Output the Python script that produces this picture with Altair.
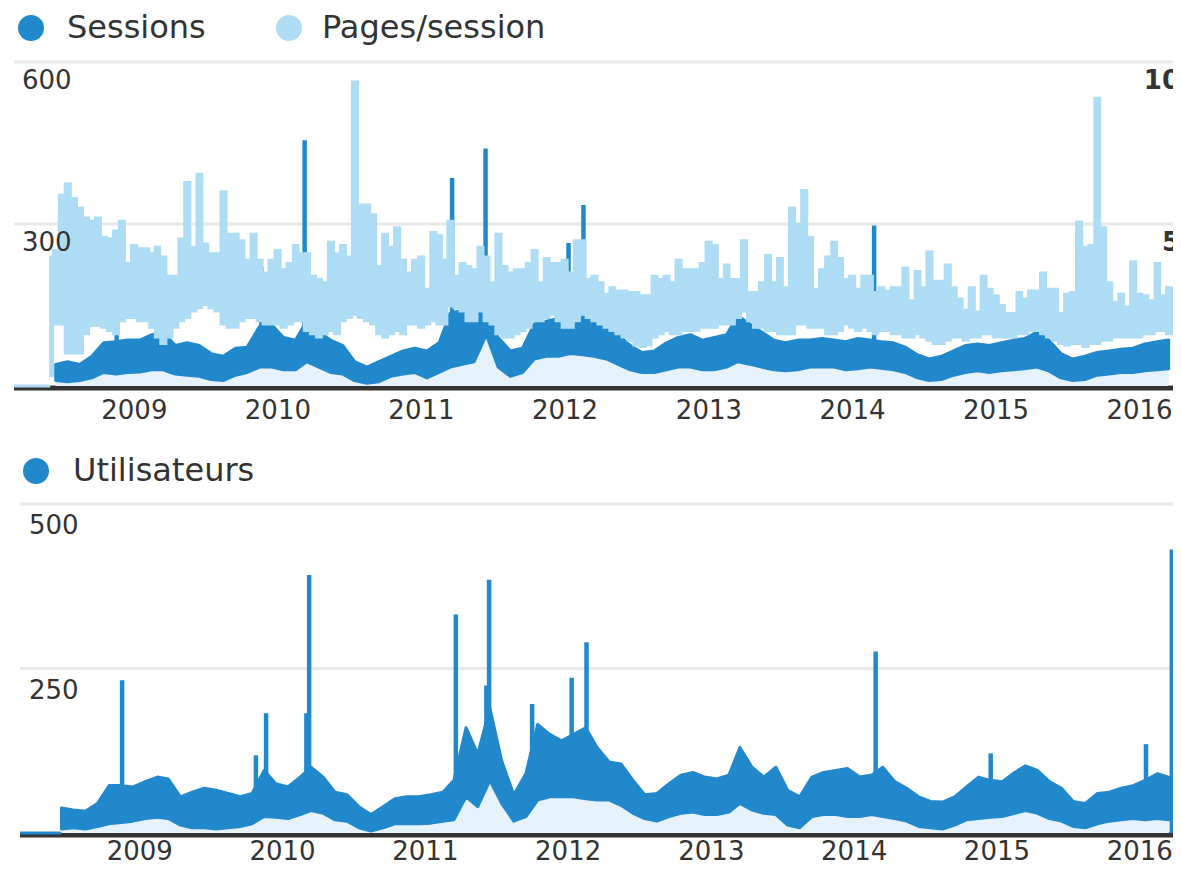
import altair as alt
import pandas as pd

# ---------------- data ----------------
top_legend_labels = ["Sessions", "Pages/session"]
bottom_legend_labels = ["Utilisateurs"]
year_labels = ["2009", "2010", "2011", "2012", "2013", "2014", "2015", "2016"]
sessions_ticks = [300, 600]
pages_ticks = [10, 5]
users_ticks = [250, 500]

# Pages/session: half-month envelopes (1st and 15th of each month from 2008-06-01)
pages_high = [
    4.0, 4.2, 5.9, 6.25, 5.8, 5.5, 5.2, 5.1, 5.2, 4.6,
    4.55, 4.8, 5.1, 3.8, 4.35, 4.25, 4.25, 4.1, 4.3, 4.0,
    3.4, 3.4, 4.55, 6.3, 4.3, 6.55, 4.4, 4.1, 4.1, 6.0,
    4.7, 4.7, 4.5, 3.9, 4.7, 3.9, 3.5, 3.9, 4.2, 3.6,
    3.8, 4.35, 4.1, 4.1, 3.4, 3.3, 3.2, 4.45, 4.1, 4.35,
    4.0, 9.4, 5.6, 5.6, 5.3, 3.7, 4.7, 4.3, 4.9, 3.9,
    3.5, 3.9, 4.0, 3.0, 4.75, 4.65, 3.9, 5.1, 3.4, 3.8,
    3.7, 3.6, 4.3, 4.0, 3.2, 4.7, 3.7, 3.5, 3.6, 3.6,
    3.8, 4.2, 3.2, 3.95, 3.8, 3.8, 3.9, 3.5, 4.5, 4.5,
    3.3, 3.4, 3.2, 2.85, 3.05, 2.95, 2.95, 2.9, 2.9, 2.8,
    2.8, 3.4, 3.3, 3.4, 3.2, 3.9, 3.6, 3.6, 3.6, 3.8,
    4.45, 4.35, 3.3, 3.75, 3.3, 3.3, 4.5, 2.9, 2.9, 3.2,
    4.05, 3.2, 3.95, 3.05, 5.5, 5.0, 6.05, 4.6, 3.0, 3.6,
    4.0, 4.45, 3.95, 3.3, 3.4, 3.0, 3.4, 3.4, 2.9, 3.05,
    2.95, 3.05, 3.05, 3.65, 2.65, 3.55, 3.05, 4.15, 3.25, 3.25,
    3.75, 3.05, 2.7, 2.35, 3.05, 2.3, 3.4, 3.0, 2.8, 2.5,
    2.25, 2.25, 2.9, 2.7, 2.95, 2.95, 3.5, 3.0, 3.0, 2.25,
    2.85, 2.9, 5.07, 4.3, 4.35, 8.9, 4.9, 3.2, 2.6, 2.85,
    2.45, 3.85, 2.85, 2.8, 2.65, 3.8, 2.8, 3.05, 3.05,
]
pages_low = [
    0.3, 1.9, 1.9, 1.0, 1.0, 1.0, 1.6, 1.85, 1.85, 1.8,
    1.7, 1.6, 2.0, 2.1, 2.1, 2.0, 2.0, 1.8, 1.5, 1.3,
    1.5, 1.8, 2.0, 2.1, 2.3, 2.4, 2.5, 2.4, 2.3, 1.9,
    1.8, 1.8, 2.0, 2.1, 2.1, 2.0, 1.9, 1.9, 1.9, 1.8,
    1.9, 2.0, 2.0, 1.7, 1.6, 1.5, 1.6, 1.7, 1.6, 2.0,
    2.1, 2.2, 2.1, 2.0, 1.9, 1.6, 1.5, 1.6, 1.7, 1.6,
    1.9, 1.9, 1.8, 1.9, 2.0, 1.9, 1.9, 2.45, 2.4, 2.3,
    2.0, 2.0, 2.3, 2.0, 1.9, 1.6, 1.5, 1.5, 1.6, 1.7,
    1.8, 2.0, 2.0, 2.1, 2.2, 2.0, 1.8, 1.8, 2.0, 2.2,
    2.1, 2.0, 1.9, 1.8, 1.7, 1.6, 1.5, 1.4, 1.25, 1.2,
    1.25, 1.5, 1.6, 1.7, 1.6, 1.6, 1.7, 1.7, 1.7, 1.8,
    1.8, 1.8, 1.9, 1.9, 1.9, 2.1, 2.3, 2.0, 1.8, 1.8,
    1.7, 1.7, 1.6, 1.6, 1.6, 1.9, 1.9, 1.8, 1.8, 1.8,
    1.6, 1.6, 1.7, 1.9, 1.8, 1.7, 1.8, 1.7, 1.6, 1.7,
    1.7, 1.6, 1.6, 1.5, 1.5, 1.6, 1.5, 1.4, 1.3, 1.3,
    1.4, 1.5, 1.5, 1.4, 1.5, 1.5, 1.6, 1.6, 1.5, 1.5,
    1.5, 1.5, 1.6, 1.6, 1.7, 1.7, 1.6, 1.5, 1.4, 1.3,
    1.25, 1.3, 1.3, 1.2, 1.3, 1.3, 1.4, 1.4, 1.5, 1.5,
    1.5, 1.5, 1.5, 1.6, 1.6, 1.7, 1.7, 1.6, 1.6,
]

# Sessions and Utilisateurs: monthly envelopes (mid-month, Jun 2008 .. Mar 2016)
sessions_low = [
    10, 8, 10, 15, 25, 22, 25,
    26, 30, 30, 22, 20, 18, 12, 10, 20, 25, 35, 35,
    30, 30, 45, 35, 25, 22, 10, 5, 8, 18, 22, 25,
    15, 25, 35, 40, 45, 95, 35, 18, 25, 50, 55, 55,
    60, 58, 55, 50, 40, 30, 25, 25, 30, 35, 35, 30,
    30, 35, 45, 40, 35, 30, 28, 30, 35, 35, 35, 30,
    32, 35, 33, 30, 25, 15, 10, 12, 20, 25, 28, 25,
    28, 30, 32, 35, 28, 15, 10, 12, 20, 22, 25, 25,
    28, 30, 32,
]
sessions_high = [
    40, 45, 40, 55, 80, 82, 85,
    85, 95, 100, 75, 80, 75, 60, 55, 70, 72, 110, 115,
    90, 85, 120, 100, 85, 75, 45, 35, 45, 55, 65, 70,
    65, 80, 135, 140, 125, 150, 90, 65, 70, 115, 120, 125,
    130, 125, 120, 110, 95, 75, 62, 65, 80, 90, 95, 85,
    90, 95, 130, 115, 100, 85, 80, 85, 85, 88, 85, 82,
    88, 85, 82, 80, 72, 58, 50, 55, 65, 75, 78, 75,
    80, 85, 88, 100, 85, 60, 50, 55, 62, 65, 68, 70,
    78, 82, 85,
]
users_low = [
    6, 8, 6, 10, 14, 16, 18,
    22, 24, 22, 12, 8, 8, 6, 8, 10, 14, 25, 24,
    22, 28, 34, 30, 20, 18, 8, 3, 8, 14, 14, 14,
    15, 18, 20, 55, 40, 80, 45, 18, 25, 50, 55, 55,
    55, 52, 50, 50, 42, 30, 22, 18, 25, 30, 32, 28,
    28, 32, 45, 35, 30, 28, 12, 8, 25, 28, 28, 25,
    25, 28, 25, 22, 18, 10, 8, 6, 12, 20, 22, 24,
    25, 30, 34, 30, 22, 18, 10, 8, 14, 18, 20, 22,
    20, 22, 20,
]
users_high = [
    38, 35, 33, 45, 72, 72, 70,
    78, 85, 82, 55, 62, 68, 65, 60, 55, 60, 95, 75,
    70, 85, 100, 85, 62, 58, 40, 28, 40, 52, 55, 55,
    58, 62, 80, 160, 120, 190, 110, 58, 90, 165, 150, 140,
    150, 160, 130, 108, 105, 80, 58, 60, 75, 88, 92, 85,
    82, 88, 130, 100, 85, 100, 65, 55, 85, 92, 95, 98,
    85, 88, 100, 78, 68, 55, 48, 47, 55, 70, 85, 80,
    78, 92, 102, 95, 78, 68, 48, 45, 60, 62, 68, 72,
    80, 90, 85,
]

# single-day peaks
sessions_spike_dates = ["2008-11-17", "2009-11-20", "2010-03-10", "2011-03-20", "2011-06-06",
                        "2011-06-13", "2012-01-10", "2012-02-17", "2014-02-25"]
sessions_spike_values = [276, 220, 455, 385, 250, 440, 265, 335, 297]

users_spike_dates = ["2008-11-17", "2009-10-25", "2009-11-20", "2010-03-03", "2010-03-10",
                     "2011-03-20", "2011-06-06", "2011-06-13", "2011-10-01", "2012-01-10",
                     "2012-02-17", "2014-02-25", "2014-12-16", "2016-01-17", "2016-03-23"]
users_spike_values = [232, 118, 182, 182, 392, 332, 224, 385, 196, 236, 290, 276, 121, 135, 431]

# periods with no data (drawn at zero)
pages_zero_dates = ["2008-03-01", "2008-06-01"]
users_zero_dates = ["2008-03-01", "2008-06-13"]

# ---------------- tables ----------------
pages_df = pd.DataFrame({
    "date": pd.date_range("2008-06-01", periods=len(pages_high), freq="SMS"),
    "low": pages_low, "high": pages_high})
month_dates = pd.date_range("2008-06-01", periods=len(sessions_high), freq="MS") + pd.Timedelta(days=14)
sess_df = pd.DataFrame({"date": month_dates, "low": sessions_low, "high": sessions_high})
users_df = pd.DataFrame({"date": month_dates, "low": users_low, "high": users_high})
sess_spk = pd.DataFrame({"date": pd.to_datetime(sessions_spike_dates), "v": sessions_spike_values})
users_spk = pd.DataFrame({"date": pd.to_datetime(users_spike_dates), "v": users_spike_values})
pages_zero = pd.DataFrame({"date": pd.to_datetime(pages_zero_dates), "v": [0, 0]})
users_zero = pd.DataFrame({"date": pd.to_datetime(users_zero_dates), "v": [0, 0]})
years_df = pd.DataFrame({"date": pd.to_datetime([y + "-01-01" for y in year_labels]), "label": year_labels})
s_ticks = pd.DataFrame({"v": sessions_ticks})
p_ticks = pd.DataFrame({"v": pages_ticks})
u_ticks = pd.DataFrame({"v": users_ticks})
zero_df = pd.DataFrame({"v": [0]})

# ---------------- style ----------------
W, H = 1159, 858
DARK, LIGHT, FILL = "#2288CC", "#ADDCF4", "#E6F2FB"
GRID, TEXT, BASE, FONT = "#E8E8E8", "#333333", "#333333", "DejaVu Sans"

d0 = alt.DateTime(year=2008, month=3, date=1)
d1 = alt.DateTime(year=2016, month=3, date=26)
xs_top = alt.Scale(domain=[d0, d1], range=[0, W])
xs_bot = alt.Scale(domain=[d0, d1], range=[6, W])
Xt = alt.X("date:T", scale=xs_top, axis=None)
Xb = alt.X("date:T", scale=xs_bot, axis=None)

s_scale = alt.Scale(domain=[0, 600], range=[378, 54], nice=False)
p_scale = alt.Scale(domain=[0, 10], range=[378, 54], nice=False)
u_scale = alt.Scale(domain=[0, 500], range=[825, 496], nice=False)


def Ys(f):
    return alt.Y(f, scale=s_scale, axis=None)


def Yp(f):
    return alt.Y(f, scale=p_scale, axis=None)


def Yu(f):
    return alt.Y(f, scale=u_scale, axis=None)


def legend(labels, colors, circle_x, text_x, y):
    layers = []
    for lab, col, cx, tx in zip(labels, colors, circle_x, text_x):
        d = alt.Data(values=[{"label": lab}])
        layers.append(alt.Chart(d).mark_circle(size=676, color=col, opacity=1).encode(
            x=alt.value(cx), y=alt.value(y)))
        layers.append(alt.Chart(d).mark_text(align="left", baseline="middle", font=FONT, fontSize=32,
                                             color=TEXT).encode(x=alt.value(tx), y=alt.value(y),
                                                                text="label:N"))
    return layers


def tick_labels(df, Yf, x, dy):
    return alt.Chart(df).mark_text(align="left", baseline="top", dy=dy, font=FONT, fontSize=26,
                                   color=TEXT).encode(x=alt.value(x), y=Yf("v:Q"), text="v:Q")


def year_text(X, y):
    return alt.Chart(years_df).mark_text(align="center", baseline="top", font=FONT, fontSize=26,
                                         color=TEXT).encode(x=X, y=alt.value(y), text="label:N")


def hrule(df, Yf, xs, color, width, yoff=0):
    return alt.Chart(df).mark_rule(color=color, strokeWidth=width, yOffset=yoff).encode(
        x=alt.X(datum=d0, type="temporal", scale=xs, axis=None),
        x2=alt.X2(datum=d1),
        y=Yf("v:Q"))


# ---------------- top panel: Sessions (left scale) ----------------
s_layer = alt.layer(
    hrule(s_ticks, Ys, xs_top, GRID, 3),
    hrule(zero_df, Ys, xs_top, BASE, 5, 2),
    alt.Chart(sess_spk).mark_rule(color=DARK, strokeWidth=4.5).encode(x=Xt, y=Ys("v:Q"), y2=alt.datum(0)),
    alt.Chart(sess_df).mark_area(color=FILL).encode(x=Xt, y=Ys("low:Q")),
    alt.Chart(sess_df).mark_area(color=DARK, stroke=DARK, strokeWidth=3, strokeJoin="round").encode(
        x=Xt, y=Ys("low:Q"), y2="high:Q"),
    year_text(Xt, 390),
    *legend(top_legend_labels, [DARK, LIGHT], [17, 275], [53, 308], 20),
)

# ---------------- top panel: Pages/session (right scale) ----------------
p_layer = alt.layer(
    alt.Chart(pages_df).mark_area(interpolate="step", color=LIGHT, stroke=LIGHT, strokeWidth=2).encode(
        x=Xt, y=Yp("low:Q"), y2="high:Q"),
    alt.Chart(pages_zero).mark_line(color=LIGHT, strokeWidth=3).encode(x=Xt, y=Yp("v:Q")),
    alt.Chart(p_ticks).mark_text(align="right", baseline="top", dy=6, font=FONT, fontSize=26,
                                 fontWeight="bold", color=TEXT).encode(
        x=alt.value(W + 7), y=Yp("v:Q"), text="v:Q"),
)

# sessions tick labels drawn above the data
s_text = alt.layer(tick_labels(s_ticks, Ys, 8, 6))

# ---------------- bottom panel: Utilisateurs ----------------
u_layer = alt.layer(
    hrule(u_ticks, Yu, xs_bot, GRID, 3),
    hrule(zero_df, Yu, xs_bot, BASE, 5, 2),
    alt.Chart(users_spk).mark_rule(color=DARK, strokeWidth=4.5).encode(x=Xb, y=Yu("v:Q"), y2=alt.datum(0)),
    alt.Chart(users_df).mark_area(color=FILL).encode(x=Xb, y=Yu("low:Q")),
    alt.Chart(users_df).mark_area(color=DARK, stroke=DARK, strokeWidth=3, strokeJoin="round").encode(
        x=Xb, y=Yu("low:Q"), y2="high:Q"),
    alt.Chart(users_zero).mark_line(color=DARK, strokeWidth=3).encode(x=Xb, y=Yu("v:Q")),
    tick_labels(u_ticks, Yu, 15, 9),
    year_text(Xb, 831),
    *legend(bottom_legend_labels, [DARK], [22], [59], 463),
)

chart = alt.layer(s_layer, p_layer, s_text, u_layer).resolve_scale(
    x="independent", y="independent"
).properties(
    width=W, height=H,
    autosize=alt.AutoSizeParams(type="none"),
    padding={"left": 6, "top": 0, "right": 0, "bottom": 0},
).configure(background="white").configure_view(stroke=None)

chart.save("out.html", embed_options={"renderer": "svg", "actions": False})
